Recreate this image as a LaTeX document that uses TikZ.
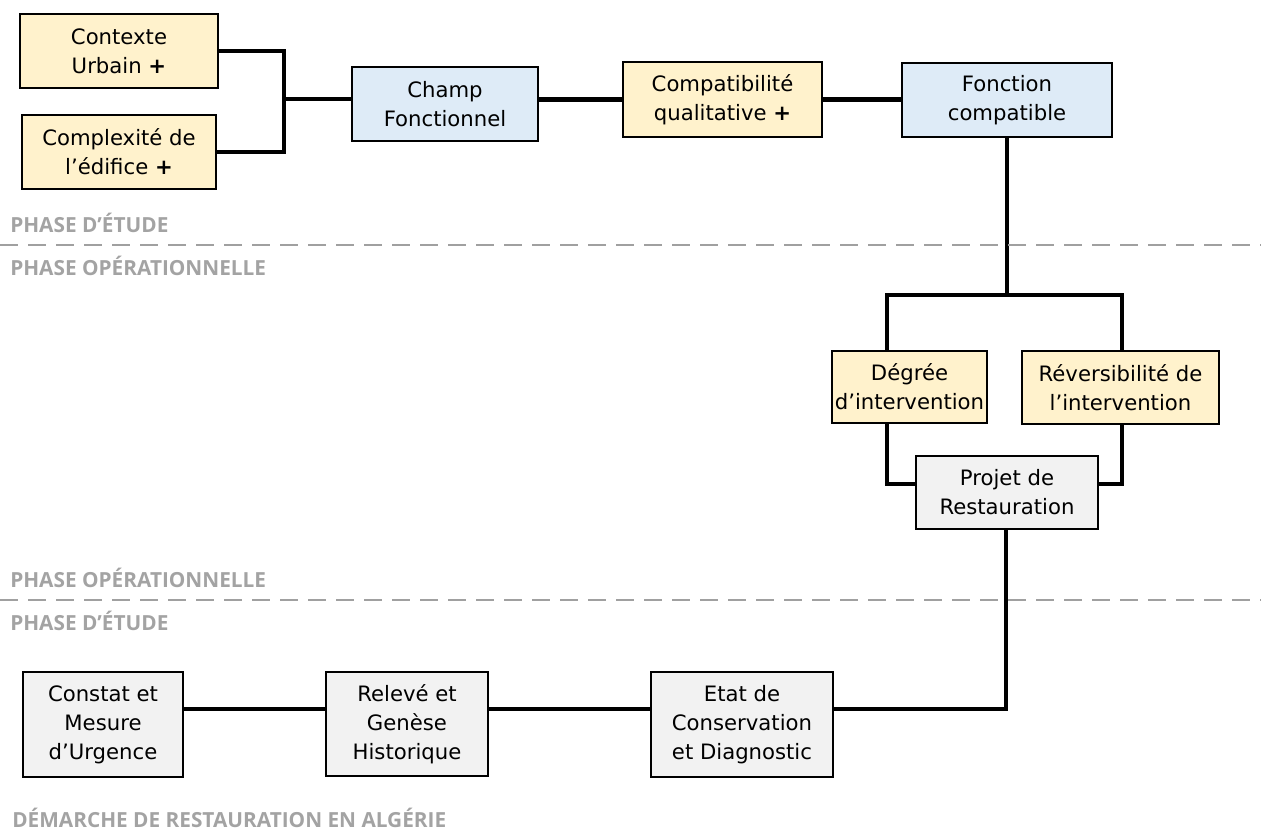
\documentclass[tikz,border=0pt]{standalone}
\usepackage{fontspec}
\setmainfont{DejaVu Sans}
\newfontfamily\headfont{Open Sans}
\definecolor{yel}{HTML}{FFF2CC}
\definecolor{blu}{HTML}{DEEBF7}
\definecolor{gry}{HTML}{F2F2F2}
\definecolor{headgray}{HTML}{A3A3A3}
\definecolor{dashgray}{HTML}{A0A0A0}
\tikzset{
  box/.style={draw=black, line width=1.9pt, align=center, inner sep=0pt,
    font=\fontsize{15.9pt}{21.75pt}\selectfont},
  wh/.style 2 args={minimum width=#1*0.75pt, minimum height=#2*0.75pt},
  ybox/.style={box, fill=yel},
  bbox/.style={box, fill=blu},
  gbox/.style={box, fill=gry},
  conn/.style={line width=3.4pt},
  sep/.style={draw=dashgray, line width=2.2pt, dash pattern=on 13.5pt off 7.5pt},
  head/.style={anchor=base west, inner sep=0pt, text=headgray,
    font=\headfont\bfseries\fontsize{15.6pt}{18pt}\selectfont},
}
\begin{document}
\begin{tikzpicture}[x=0.75pt,y=-0.75pt]
\useasboundingbox (0,0) rectangle (1261,832);

% boxes
\node[ybox, wh={198}{74}] (ctx) at (119,51) {Contexte\\Urbain \textbf{+}};
\node[ybox, wh={194}{74}] (cpx) at (119,152) {Complexité de\\l’édifice \textbf{+}};
\node[bbox, wh={186}{74}] (champ) at (445,104) {Champ\\Fonctionnel};
\node[ybox, wh={199}{75}] (compat) at (722.5,99.5) {Compatibilité\\qualitative \textbf{+}};
\node[bbox, wh={210}{74}] (fonc) at (1007,100) {Fonction\\compatible};
\node[ybox, wh={155}{72}] (deg) at (909.5,387) {Dégrée\\d’intervention};
\node[ybox, wh={197}{73}] (rev) at (1120.5,387.5) {Réversibilité de\\l’intervention};
\node[gbox, wh={182}{73}] (proj) at (1007,492.5) {Projet de\\Restauration};
\node[gbox, wh={182}{105}] (etat) at (742,724.5) {Etat de\\Conservation\\et Diagnostic};
\node[gbox, wh={162}{104}] (rel) at (407,724) {Relevé et\\Genèse\\Historique};
\node[gbox, wh={160}{105}] (cst) at (103,724.5) {Constat et\\Mesure\\d’Urgence};

% junction coordinates
\coordinate (j1) at (284,99);
\coordinate (jl) at (887,295);
\coordinate (jr) at (1122,295);
\coordinate (kl) at (887,484);
\coordinate (kr) at (1122,484);
\coordinate (m) at (1006,709);

% connectors
\draw[conn] (ctx.east) -| (j1);
\draw[conn] (cpx.east) -| (j1);
\draw[conn] (j1) -- (j1 -| champ.west);
\draw[conn] (compat.west) -- (compat.west -| champ.east);
\draw[conn] (compat.east) -- (compat.east -| fonc.west);
\draw[conn] (fonc.south) -- (fonc.south |- jl);
\draw[conn] (deg.north -| jl) -- (jl) -- (jr) -- (rev.north -| jr);
\draw[conn] (deg.south -| kl) -- (kl) -- (kl -| proj.west);
\draw[conn] (rev.south -| kr) -- (kr) -- (kr -| proj.east);
\draw[conn] (proj.south -| m) -- (m) -- (m -| etat.east);
\draw[conn] (etat.west |- m) -- (rel.east |- m);
\draw[conn] (rel.west |- m) -- (cst.east |- m);

% phase separators
\coordinate (s1a) at (0,245);
\coordinate (s1b) at (1261,245);
\coordinate (s2a) at (0,600);
\coordinate (s2b) at (1261,600);
\draw[sep] (s1a) -- (s1b);
\draw[sep] (s2a) -- (s2b);

% labels
\node[head] (h1) at (10,232) {PHASE D’ÉTUDE};
\node[head] (h2) at (10,275) {PHASE OPÉRATIONNELLE};
\node[head] (h3) at (10,587) {PHASE OPÉRATIONNELLE};
\node[head] (h4) at (10,630) {PHASE D’ÉTUDE};
\node[head] (h5) at (12,827) {DÉMARCHE DE RESTAURATION EN ALGÉRIE};
\end{tikzpicture}
\end{document}
